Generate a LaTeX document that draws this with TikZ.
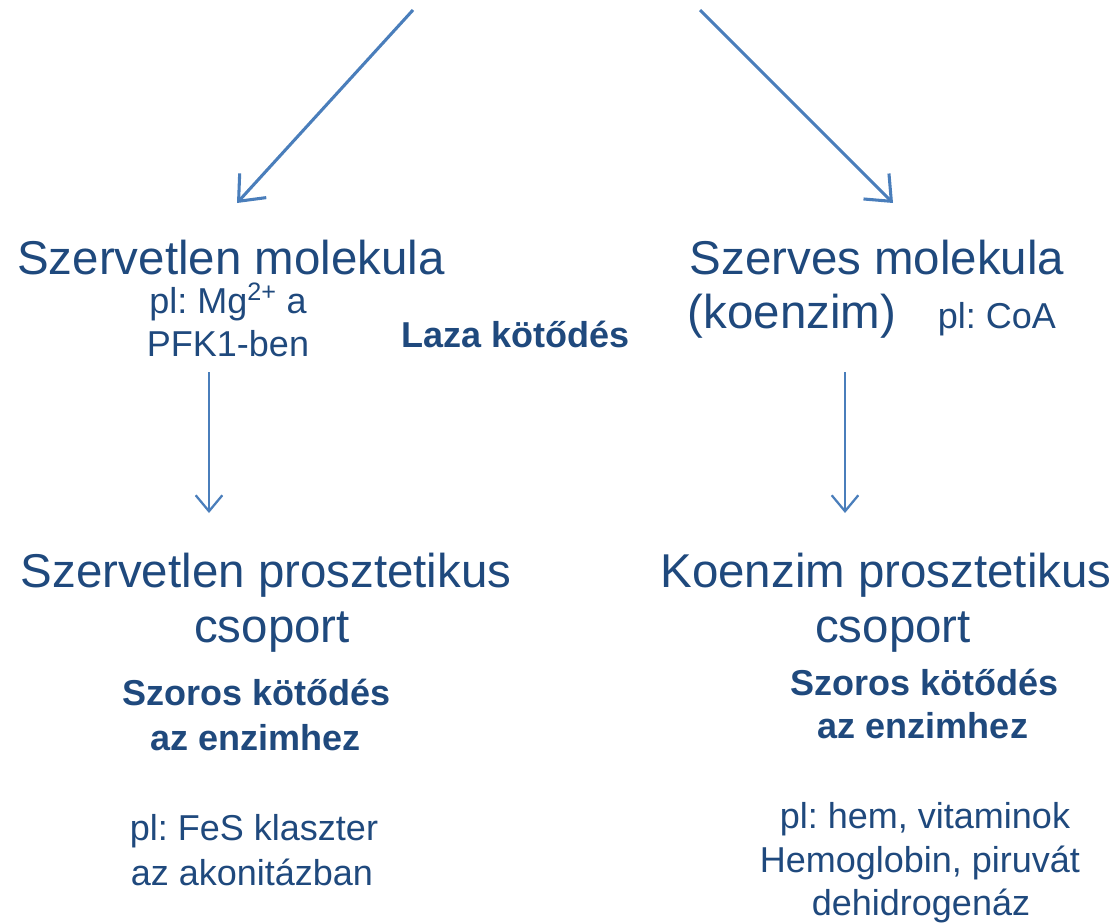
\documentclass[tikz,border=0pt]{standalone}
\usepackage{fontspec}
\setmainfont{Liberation Sans}
\usetikzlibrary{arrows.meta}
\definecolor{txtblue}{HTML}{1F497D}
\definecolor{arrblue}{HTML}{4A7EBB}
\frenchspacing
\tikzset{
  big/.style={anchor=base, inner sep=0pt, text=txtblue, font=\fontsize{35.6}{42}\selectfont},
  small/.style={anchor=base, inner sep=0pt, text=txtblue, font=\fontsize{27}{32}\selectfont},
  smallbold/.style={anchor=base, inner sep=0pt, text=txtblue, font=\fontsize{27}{32}\selectfont\bfseries},
  diagarrow/.style={draw=arrblue, line width=2.3pt, -{Straight Barb[length=16pt, width=27pt, line width=2.3pt]}},
  vertarrow/.style={draw=arrblue, line width=1.2pt, -{Straight Barb[length=12pt, width=20pt, line width=1.7pt]}}
}
\begin{document}
\begin{tikzpicture}[x=0.75pt, y=-0.75pt]
  \useasboundingbox (0,0) rectangle (1118,924);

  % top level: the two kinds of cofactor
  \node[big] (inorg) at (231,274) {Szervetlen molekula};
  \node[small] (mgA) at (228,313) {pl: Mg\textsuperscript{2+} a};
  \node[small] (mgB) at (228,356) {PFK1-ben};
  \node[smallbold] (loose) at (516,347) {Laza kötődés};
  \node[big] (org) at (877,274) {Szerves molekula};
  \node[big] (coenz) at (792,328) {(koenzim)};
  \node[small] (coa) at (997,328) {pl: CoA};

  % bottom level: prosthetic groups
  \node[big] (inprostA) at (266,587) {Szervetlen prosztetikus};
  \node[big] (inprostB) at (272,642) {csoport};
  \node[smallbold] (tightLA) at (257,705) {Szoros kötődés};
  \node[smallbold] (tightLB) at (256,750) {az enzimhez};
  \node[small] (fesA) at (254,840) {pl: FeS klaszter};
  \node[small] (fesB) at (252,885) {az akonitázban};

  \node[big] (coprostA) at (886,587) {Koenzim prosztetikus};
  \node[big] (coprostB) at (893,642) {csoport};
  \node[smallbold] (tightRA) at (925,695) {Szoros kötődés};
  \node[smallbold] (tightRB) at (923,738) {az enzimhez};
  \node[small] (hemA) at (925,828) {pl: hem, vitaminok};
  \node[small] (hemB) at (920,872) {Hemoglobin, piruvát};
  \node[small] (hemC) at (921,915) {dehidrogenáz};

  % arrow end points
  \coordinate (topL) at (413,10);
  \coordinate (topR) at (700,10);
  \coordinate (inorgTip) at (237,203);
  \coordinate (orgTip) at (893,203);
  \coordinate (inorgFoot) at (209,372);
  \coordinate (inprostTip) at (209,513);
  \coordinate (coenzFoot) at (845,372);
  \coordinate (coprostTip) at (845,513);

  \draw[diagarrow] (topL) -- (inorgTip);
  \draw[diagarrow] (topR) -- (orgTip);
  \draw[vertarrow] (inorgFoot) -- (inprostTip);
  \draw[vertarrow] (coenzFoot) -- (coprostTip);
\end{tikzpicture}
\end{document}
